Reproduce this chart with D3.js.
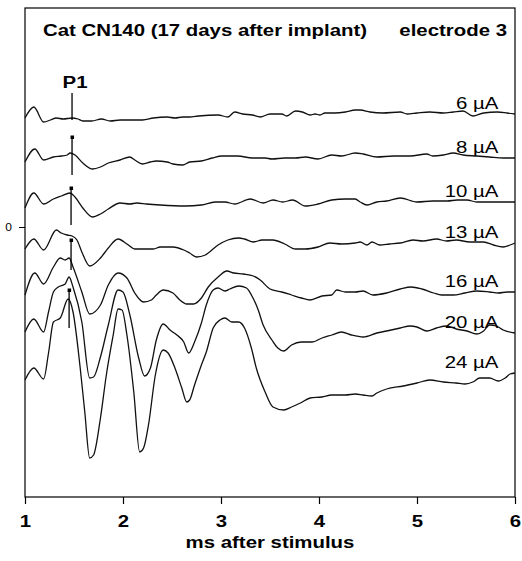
<!DOCTYPE html>
<html>
<head>
<meta charset="utf-8">
<script src="https://cdn.jsdelivr.net/npm/d3@7"></script>
<style>
body { margin: 0; background: #fff; }
text { font-family: "Liberation Sans", Arial, sans-serif; fill: #000; }
</style>
</head>
<body>
<svg id="chart"></svg>
<script>
// stimulus currents, one trace each (top to bottom)
const currents = ["6 µA", "8 µA", "10 µA", "13 µA", "16 µA", "20 µA", "24 µA"];

// [ms after stimulus, amplitude (arbitrary units, offset per trace)]
const trace6 = [[1.00,10.9],[1.09,12.0],[1.19,10.5],[1.26,10.7],[1.32,10.9],[1.39,10.8],[1.48,10.9],[1.54,10.8],[1.59,10.6],[1.68,10.6],[1.78,10.8],[1.87,10.6],[1.97,10.7],[2.07,10.7],[2.20,10.7],[2.31,10.9],[2.45,11.0],[2.53,10.9],[2.61,11.0],[2.68,11.0],[2.77,11.1],[2.97,11.2],[3.07,11.0],[3.14,11.5],[3.22,11.3],[3.32,11.2],[3.40,11.0],[3.50,11.3],[3.62,11.3],[3.67,11.1],[3.76,11.6],[3.83,11.5],[3.91,11.2],[3.96,11.3],[4.01,11.2],[4.06,11.4],[4.16,11.4],[4.27,11.5],[4.37,11.7],[4.42,11.7],[4.52,11.5],[4.65,11.4],[4.83,11.5],[4.90,11.3],[5.00,11.4],[5.13,11.5],[5.27,11.4],[5.37,11.5],[5.47,11.6],[5.57,11.1],[5.68,11.4],[5.82,11.5],[5.92,11.4],[6.00,11.3]];
const trace8 = [[1.00,6.5],[1.10,7.8],[1.19,6.7],[1.29,7.0],[1.37,7.1],[1.43,7.2],[1.46,7.4],[1.51,7.2],[1.59,6.4],[1.69,5.8],[1.77,6.0],[1.85,6.4],[1.97,6.7],[2.07,7.0],[2.12,6.7],[2.20,6.3],[2.28,6.5],[2.34,6.6],[2.45,6.5],[2.51,6.3],[2.61,6.2],[2.68,6.5],[2.80,6.6],[2.91,6.9],[3.01,7.1],[3.17,7.1],[3.32,6.9],[3.45,6.9],[3.52,6.8],[3.65,6.9],[3.76,6.9],[3.86,7.0],[3.99,6.8],[4.13,7.2],[4.23,7.1],[4.37,7.4],[4.45,7.3],[4.59,7.0],[4.76,7.1],[4.93,7.1],[5.10,7.3],[5.16,7.1],[5.27,7.2],[5.37,7.4],[5.47,7.2],[5.61,7.1],[5.74,7.0],[5.88,6.9],[6.00,6.9]];
const trace10 = [[1.00,1.9],[1.09,3.4],[1.19,2.3],[1.29,2.8],[1.37,3.1],[1.46,3.4],[1.51,3.0],[1.59,1.9],[1.69,1.0],[1.77,1.3],[1.85,1.8],[1.97,2.4],[2.07,2.3],[2.14,2.4],[2.24,2.3],[2.38,2.2],[2.63,2.1],[2.80,2.2],[2.94,2.5],[3.04,2.5],[3.14,2.3],[3.30,2.8],[3.43,2.4],[3.53,2.7],[3.63,2.5],[3.73,2.7],[3.86,2.1],[3.99,2.3],[4.13,2.7],[4.27,2.8],[4.37,2.8],[4.42,2.5],[4.49,2.2],[4.59,2.5],[4.69,2.6],[4.83,2.9],[5.00,2.5],[5.16,2.6],[5.31,2.6],[5.41,2.7],[5.51,2.7],[5.61,2.5],[5.74,2.5],[5.88,2.5],[6.00,2.5]];
const trace13 = [[1.00,-2.2],[1.09,-1.2],[1.19,-2.3],[1.32,-0.3],[1.37,-0.6],[1.43,-0.8],[1.48,-0.9],[1.53,-1.3],[1.58,-2.5],[1.66,-3.9],[1.77,-3.1],[1.85,-2.1],[1.95,-1.2],[2.04,-1.7],[2.12,-2.2],[2.31,-2.2],[2.38,-2.0],[2.51,-2.0],[2.62,-2.3],[2.68,-2.6],[2.75,-3.0],[2.84,-2.8],[2.97,-1.8],[3.07,-1.3],[3.18,-1.1],[3.24,-1.2],[3.33,-1.5],[3.42,-1.3],[3.53,-1.3],[3.65,-1.7],[3.76,-2.2],[3.86,-2.2],[3.99,-2.0],[4.11,-1.6],[4.23,-1.7],[4.37,-1.6],[4.42,-1.5],[4.49,-1.8],[4.54,-1.5],[4.62,-1.8],[4.72,-1.7],[4.83,-1.6],[4.96,-1.3],[5.06,-1.4],[5.20,-1.2],[5.30,-1.4],[5.40,-1.3],[5.54,-1.5],[5.68,-1.5],[5.78,-1.8],[5.88,-2.0],[5.95,-1.8],[6.00,-1.6]];
const trace16 = [[1.00,-6.8],[1.10,-4.6],[1.19,-5.7],[1.29,-4.0],[1.36,-3.1],[1.41,-3.3],[1.45,-3.1],[1.49,-4.0],[1.58,-6.5],[1.66,-8.7],[1.77,-7.8],[1.85,-5.8],[1.95,-4.6],[2.04,-5.1],[2.12,-6.6],[2.21,-7.5],[2.29,-7.3],[2.34,-6.8],[2.41,-6.3],[2.51,-6.6],[2.58,-7.3],[2.65,-7.7],[2.72,-7.7],[2.80,-7.1],[2.87,-6.0],[2.97,-5.0],[3.06,-4.4],[3.13,-4.6],[3.23,-4.7],[3.33,-4.9],[3.40,-5.3],[3.50,-6.2],[3.62,-6.5],[3.72,-6.8],[3.82,-7.1],[3.91,-7.3],[4.03,-6.9],[4.13,-6.8],[4.18,-6.3],[4.27,-6.5],[4.37,-6.5],[4.45,-6.4],[4.55,-6.8],[4.69,-6.6],[4.83,-6.2],[4.94,-6.0],[5.05,-6.2],[5.17,-6.6],[5.25,-6.8],[5.37,-6.8],[5.49,-6.6],[5.61,-6.4],[5.74,-6.5],[5.83,-6.6],[5.92,-6.5],[6.00,-6.5]];
const trace20 = [[1.00,-10.5],[1.09,-9.2],[1.19,-10.5],[1.24,-8.5],[1.29,-6.5],[1.34,-6.0],[1.41,-5.7],[1.45,-5.0],[1.49,-6.0],[1.58,-9.5],[1.66,-15.1],[1.70,-15.0],[1.77,-13.0],[1.85,-9.8],[1.95,-6.3],[2.00,-6.5],[2.07,-8.8],[2.16,-13.1],[2.22,-14.9],[2.28,-14.1],[2.34,-11.3],[2.41,-9.7],[2.48,-10.3],[2.55,-10.8],[2.62,-11.5],[2.67,-12.6],[2.73,-11.5],[2.80,-9.6],[2.85,-7.8],[2.92,-6.3],[2.97,-6.1],[3.04,-6.4],[3.09,-6.2],[3.18,-5.9],[3.26,-6.1],[3.31,-6.8],[3.38,-8.3],[3.43,-9.8],[3.52,-11.3],[3.58,-12.1],[3.64,-12.4],[3.72,-11.8],[3.82,-11.5],[3.93,-11.5],[4.03,-11.1],[4.13,-10.8],[4.23,-10.5],[4.33,-10.8],[4.45,-11.0],[4.59,-10.6],[4.69,-10.4],[4.83,-10.1],[4.93,-9.9],[5.00,-10.0],[5.10,-10.4],[5.20,-10.1],[5.30,-9.9],[5.40,-10.2],[5.51,-10.4],[5.61,-10.7],[5.68,-10.4],[5.74,-9.8],[5.81,-9.9],[5.88,-10.3],[6.00,-10.6]];
const trace24 = [[1.00,-15.3],[1.09,-14.1],[1.19,-15.2],[1.24,-12.6],[1.29,-9.5],[1.36,-9.1],[1.44,-7.2],[1.49,-8.5],[1.56,-13.8],[1.61,-18.5],[1.66,-23.1],[1.70,-22.8],[1.77,-19.1],[1.83,-14.8],[1.90,-10.8],[1.95,-8.2],[1.99,-8.3],[2.04,-10.8],[2.11,-16.5],[2.17,-22.5],[2.21,-22.1],[2.26,-19.8],[2.33,-14.8],[2.41,-12.3],[2.46,-12.6],[2.53,-14.1],[2.60,-16.1],[2.65,-17.5],[2.68,-17.3],[2.73,-15.8],[2.80,-13.8],[2.85,-12.5],[2.92,-10.1],[2.99,-9.3],[3.04,-9.1],[3.11,-9.5],[3.18,-9.5],[3.24,-10.1],[3.31,-12.1],[3.36,-14.1],[3.45,-16.5],[3.53,-18.0],[3.64,-18.3],[3.72,-18.0],[3.81,-17.6],[3.91,-17.1],[4.03,-17.0],[4.13,-16.8],[4.27,-16.8],[4.37,-16.7],[4.45,-16.8],[4.54,-16.9],[4.59,-16.6],[4.69,-16.2],[4.86,-15.9],[5.00,-15.6],[5.13,-15.3],[5.27,-15.5],[5.40,-15.6],[5.49,-15.7],[5.57,-15.5],[5.64,-15.1],[5.74,-15.1],[5.83,-15.4],[5.90,-15.1],[5.95,-14.7],[6.00,-14.6]];
const traces = [trace6, trace8, trace10, trace13, trace16, trace20, trace24];

// P1 latency markers: time, top and bottom of the vertical bar
const p1Bar = [1.48, 13.4, 10.7];
const markerTimes = [1.48, 1.47, 1.47, 1.45];
const markerTops = [9.0, 3.9, -1.3, -6.3];
const markerBottoms = [5.2, 0.2, -4.3, -10.1];

const xTicks = [1, 2, 3, 4, 5, 6];
const yTicks = [0];

const width = 522, height = 561;
const margin = {top: 8, right: 7, bottom: 64, left: 25};
const sx = 1.2; // the figure's lettering is horizontally stretched

const svg = d3.select("#chart").attr("width", width).attr("height", height);

const x = d3.scaleLinear().domain([1, 6]).range([margin.left, width - margin.right]);
const y = d3.scaleLinear().domain([-27, 21.9]).range([height - margin.bottom, margin.top]);

// frame
svg.append("rect")
	.attr("x", x(1)).attr("y", y(21.9))
	.attr("width", x(6) - x(1)).attr("height", y(-27) - y(21.9))
	.attr("fill", "none").attr("stroke", "#000").attr("stroke-width", 1.2);

// x axis
const xAxis = svg.append("g")
	.attr("transform", `translate(0,${y(-27)})`)
	.call(d3.axisBottom(x).tickValues(xTicks).tickSize(7).tickFormat(d3.format("d")));
xAxis.select(".domain").remove();
xAxis.selectAll("line").attr("stroke", "#000").attr("stroke-width", 1.2);
xAxis.selectAll("text")
	.attr("y", 30).attr("dy", null)
	.attr("transform", `scale(${sx},1)`)
	.style("font-size", "17px").style("font-weight", "bold")
	.style("font-family", '"Liberation Sans", Arial, sans-serif').attr("fill", "#000");

// y axis (only the zero tick)
const yAxis = svg.append("g")
	.attr("transform", `translate(${x(1)},0)`)
	.call(d3.axisLeft(y).tickValues(yTicks).tickSize(6).tickPadding(5));
yAxis.select(".domain").remove();
yAxis.selectAll("line").attr("stroke", "#000");
yAxis.selectAll("text")
	.attr("transform", `scale(${sx},1)`)
	.style("font-size", "10px")
	.style("font-family", '"Liberation Sans", Arial, sans-serif').attr("fill", "#000");

// traces
const line = d3.line().curve(d3.curveMonotoneX).x(d => x(d[0])).y(d => y(d[1]));
svg.selectAll(".trace")
	.data(traces).enter()
	.append("path")
	.attr("class", "trace")
	.attr("d", line)
	.attr("fill", "none")
	.attr("stroke", "#111")
	.attr("stroke-width", 1.3)
	.attr("stroke-linejoin", "round");

// current labels
svg.selectAll(".curlabel")
	.data(currents).enter()
	.append("text")
	.attr("class", "curlabel")
	.attr("transform", (d, i) => `translate(${x(5.83)},${y(traces[i][traces[i].length - 1][1]) - 5}) scale(${sx},1)`)
	.attr("text-anchor", "end")
	.style("font-size", "17px")
	.text(d => d);

// P1 bar and label
svg.append("line")
	.attr("x1", x(p1Bar[0])).attr("x2", x(p1Bar[0]))
	.attr("y1", y(p1Bar[1])).attr("y2", y(p1Bar[2]))
	.attr("stroke", "#000").attr("stroke-width", 1.3);
svg.append("text")
	.attr("transform", `translate(${x(p1Bar[0]) + 3},${y(p1Bar[1]) - 5}) scale(${sx},1)`)
	.attr("text-anchor", "middle")
	.style("font-size", "17px").style("font-weight", "bold")
	.text("P1");

// latency markers
markerTimes.forEach((t, i) => {
	svg.append("line")
		.attr("x1", x(t)).attr("x2", x(t))
		.attr("y1", y(markerTops[i])).attr("y2", y(markerBottoms[i]))
		.attr("stroke", "#000").attr("stroke-width", 1.3);
	svg.append("rect")
		.attr("x", x(t) - 1.5).attr("y", y(markerTops[i]) - 1.5)
		.attr("width", 3.5).attr("height", 3.5)
		.attr("fill", "#000");
});

// titles
svg.append("text")
	.attr("transform", `translate(43,36) scale(${sx},1)`)
	.style("font-size", "17px").style("font-weight", "bold")
	.text("Cat CN140 (17 days after implant)");
svg.append("text")
	.attr("transform", `translate(507,36) scale(${sx},1)`)
	.attr("text-anchor", "end")
	.style("font-size", "17px").style("font-weight", "bold")
	.text("electrode 3");
svg.append("text")
	.attr("transform", `translate(${(x(1) + x(6)) / 2},548) scale(${sx},1)`)
	.attr("text-anchor", "middle")
	.style("font-size", "17px").style("font-weight", "bold")
	.text("ms after stimulus");
</script>
</body>
</html>
